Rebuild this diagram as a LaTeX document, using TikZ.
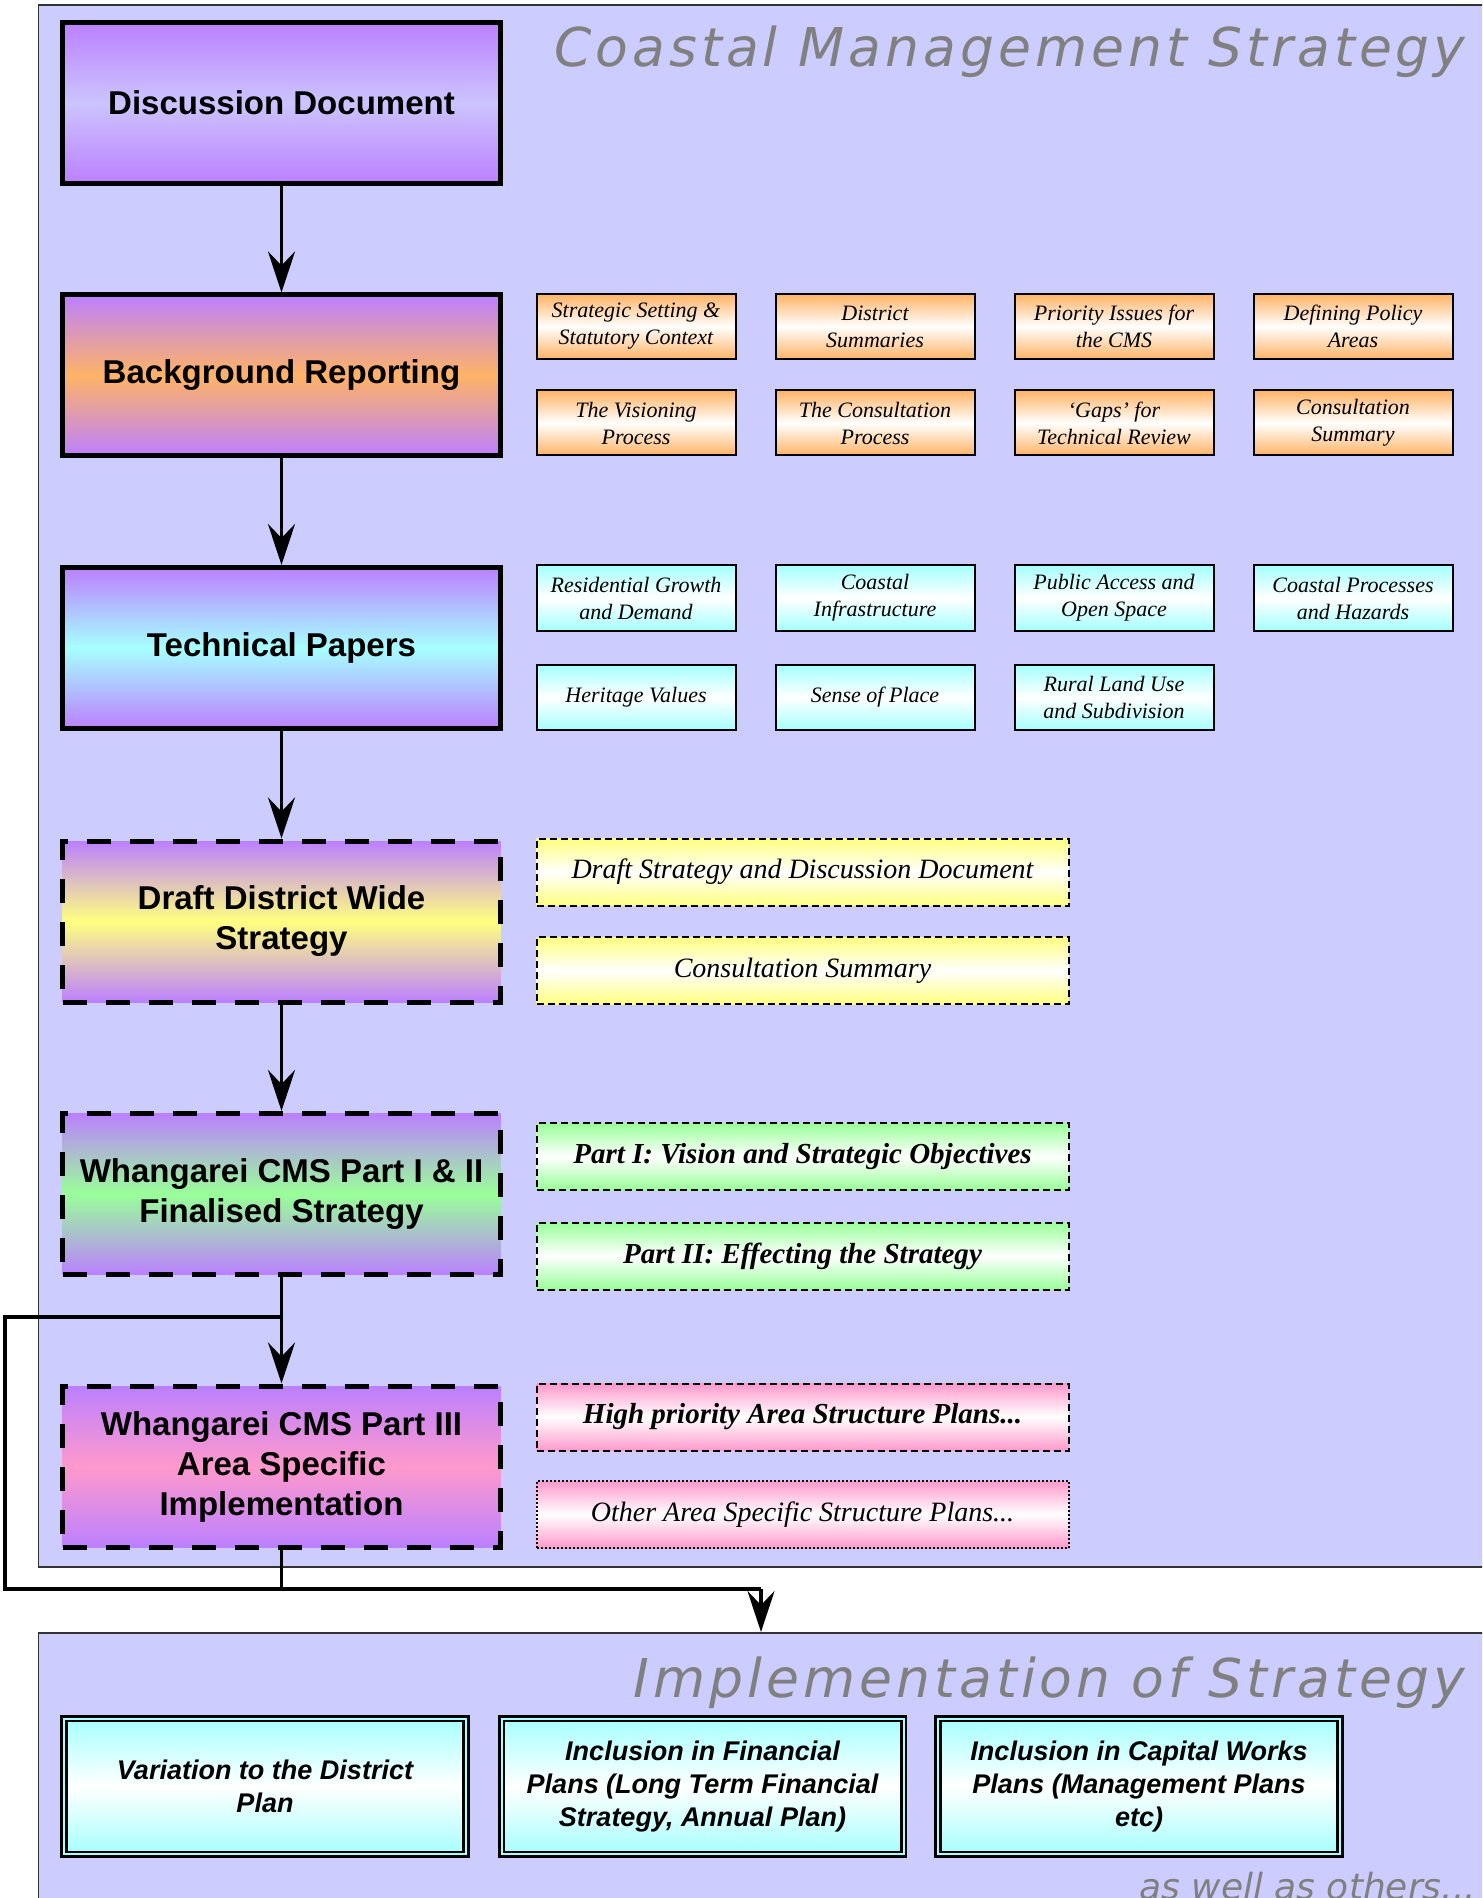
\documentclass[tikz,border=0pt]{standalone}
\usepackage{fontspec}
\setmainfont{Liberation Serif}
\setsansfont{Liberation Sans}
\newfontfamily\headfont[LetterSpace=7.5]{DejaVu Sans}
\newfontfamily\othersfont{DejaVu Sans}
\usetikzlibrary{arrows.meta}
\usetikzlibrary{positioning}

\definecolor{panelbg}{HTML}{CCCCFF}
\definecolor{purp}{HTML}{BB80FF}
\definecolor{lilac}{HTML}{CCC4FF}
\definecolor{orng}{HTML}{FFB366}
\definecolor{aqua}{HTML}{A6FFFF}
\definecolor{yell}{HTML}{FFFF80}
\definecolor{grn}{HTML}{99FF99}
\definecolor{pnk}{HTML}{FF99CC}
\definecolor{headgray}{HTML}{808080}

\begin{document}
\begin{tikzpicture}[x=0.5pt, y=-0.5pt,
    panel/.style={draw=black!80, line width=0.8pt, fill=panelbg, anchor=north west, inner sep=0pt},
    headline/.style={text=headgray, inner sep=0pt, font=\headfont\itshape\fontsize{26.75}{30}\selectfont},
    stage/.style={draw, line width=2.5pt, minimum width=219pt, minimum height=80.5pt, align=center,
        font=\sffamily\bfseries\fontsize{16.5}{20}\selectfont,
        top color=purp, bottom color=purp, middle color=#1},
    dashstage/.style={stage=#1, dash pattern=on 12pt off 9.5pt},
    paper/.style={draw, line width=1pt, minimum width=99.5pt, minimum height=32.5pt, align=center, inner sep=1pt,
        font=\itshape\fontsize{11}{13.5}\selectfont,
        top color=#1, bottom color=#1, middle color=white},
    note/.style={draw, line width=1pt, dash pattern=on 3.5pt off 2pt, minimum width=266pt, minimum height=33.5pt,
        font=\itshape\fontsize{14}{17}\selectfont,
        top color=#1, bottom color=#1, middle color=white},
    action/.style={draw, line width=1.35pt, double=aqua, double distance=1pt, minimum width=201pt, minimum height=67.8pt,
        align=center, font=\sffamily\bfseries\itshape\fontsize{13.5}{16.5}\selectfont,
        top color=aqua, bottom color=aqua, middle color=white},
    link/.style={line width=1.75pt},
    flow/.style={link, -{Stealth[length=20.5pt, width=13.5pt, inset=7pt]}}]

    \path[use as bounding box, clip] (0,0) rectangle (1482,1898);

    % panels
    \node[panel, minimum width=781pt, minimum height=781pt] (cmspanel) at (37.5,4) {};
    \node[panel, minimum width=781pt, minimum height=200pt] (implpanel) at (37.5,1632) {};
    \node[headline, anchor=base east] (cmshead) at (1466,67) {Coastal Management Strategy};
    \node[headline, anchor=base east] (implhead) at (1466,1697) {Implementation of Strategy};
    \node[text=headgray, inner sep=0pt, anchor=base west, font=\othersfont\itshape\fontsize{18}{20}\selectfont] (others) at (1139,1899) {as well as others...};

    % main stages
    \node[stage=lilac] (disc) at (281.5,103) {Discussion Document};
    \node[stage=orng] (bgrep) at (281.5,375.5) {Background Reporting};
    \node[stage=aqua] (techpap) at (281.5,648) {Technical Papers};
    \node[dashstage=yell] (draft) at (281.5,921.5) {Draft District Wide\\Strategy};
    \node[dashstage=grn] (final) at (281.5,1194) {Whangarei CMS Part I \& II\\Finalised Strategy};
    \node[dashstage=pnk] (areaimpl) at (281.5,1466.5) {Whangarei CMS Part III\\Area Specific\\Implementation};

    % background reports
    \node[paper=orng] (bg1) at (636,326.5) {Strategic Setting \&\\Statutory Context};
    \node[paper=orng, right=19pt of bg1] (bg2) {District\\Summaries};
    \node[paper=orng, right=19pt of bg2] (bg3) {Priority Issues for\\the CMS};
    \node[paper=orng, right=19pt of bg3] (bg4) {Defining Policy\\Areas};
    \node[paper=orng] (bg5) at (636,423) {The Visioning\\Process};
    \node[paper=orng, right=19pt of bg5] (bg6) {The Consultation\\Process};
    \node[paper=orng, right=19pt of bg6] (bg7) {‘Gaps’ for\\Technical Review};
    \node[paper=orng, right=19pt of bg7] (bg8) {Consultation\\Summary};

    % technical papers
    \node[paper=aqua] (tp1) at (636,598) {Residential Growth\\and Demand};
    \node[paper=aqua, right=19pt of tp1] (tp2) {Coastal\\Infrastructure};
    \node[paper=aqua, right=19pt of tp2] (tp3) {Public Access and\\Open Space};
    \node[paper=aqua, right=19pt of tp3] (tp4) {Coastal Processes\\and Hazards};
    \node[paper=aqua] (tp5) at (636,697.5) {Heritage Values};
    \node[paper=aqua, right=19pt of tp5] (tp6) {Sense of Place};
    \node[paper=aqua, right=19pt of tp6] (tp7) {Rural Land Use\\and Subdivision};

    % outputs
    \node[note=yell] (dr1) at (802.5,872) {Draft Strategy and Discussion Document};
    \node[note=yell] (dr2) at (802.5,970.5) {Consultation Summary};
    \node[note=grn, font=\bfseries\itshape\fontsize{14.5}{17}\selectfont] (fn1) at (802.5,1156.5) {Part I: Vision and Strategic Objectives};
    \node[note=grn, font=\bfseries\itshape\fontsize{14.5}{17}\selectfont] (fn2) at (802.5,1256) {Part II: Effecting the Strategy};
    \node[note=pnk, font=\bfseries\itshape\fontsize{14.5}{17}\selectfont] (ar1) at (802.5,1417) {High priority Area Structure Plans...};
    \node[note=pnk, dash pattern=on 1pt off 1pt] (ar2) at (802.5,1514.5) {Other Area Specific Structure Plans...};

    % implementation
    \node[action] (var) at (265,1786.5) {Variation to the District\\Plan};
    \node[action] (fin) at (702.5,1786.5) {Inclusion in Financial\\Plans (Long Term Financial\\Strategy, Annual Plan)};
    \node[action] (cap) at (1139,1786.5) {Inclusion in  Capital Works\\Plans (Management Plans\\etc)};

    % connectors
    \draw[flow] (disc) -- (bgrep);
    \draw[flow] (bgrep) -- (techpap);
    \draw[flow] (techpap) -- (draft);
    \draw[flow] (draft) -- (final);
    \draw[flow] (final) -- (areaimpl);
    \coordinate (split) at (281.5,1317);
    \coordinate (farleft) at (5,1317);
    \coordinate (farlow) at (5,1589);
    \coordinate (drop) at (761,1589);
    \draw[link] (split) -- (farleft) -- (farlow) -- (drop);
    \draw[link] (areaimpl.south) -- (areaimpl.south |- drop);
    \draw[flow] (drop) -- (drop |- implpanel.north);
\end{tikzpicture}
\end{document}
